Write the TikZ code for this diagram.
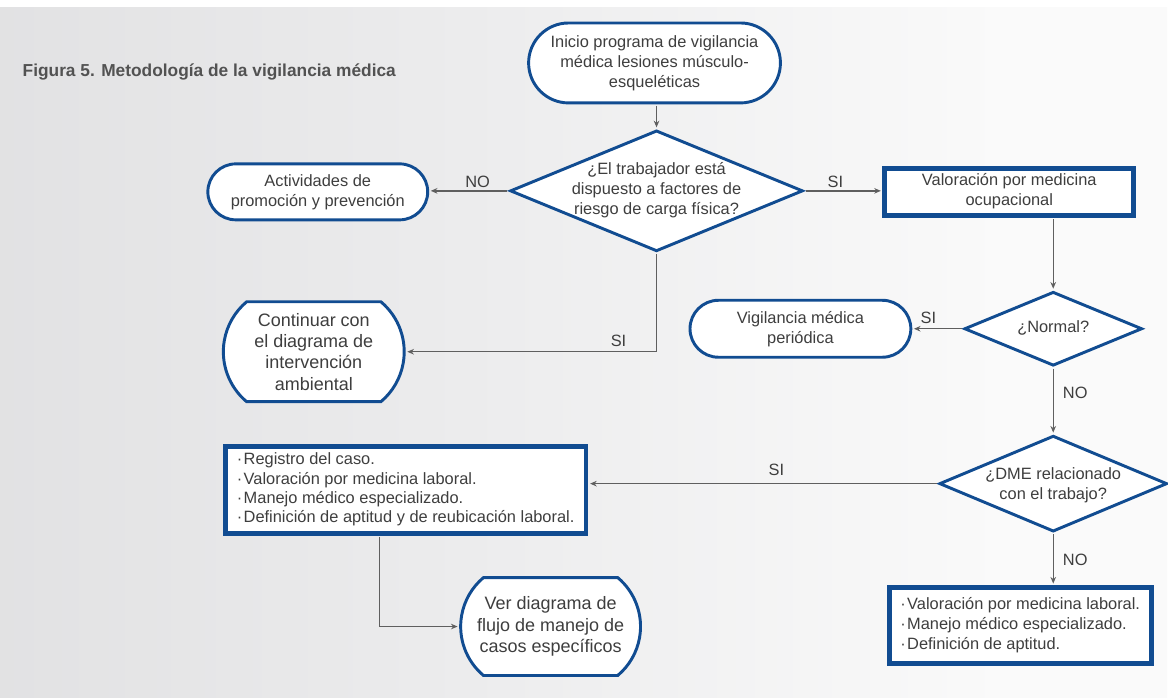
\documentclass[tikz,border=0pt]{standalone}
\usepackage{fontspec}
\setmainfont{Liberation Sans}
\usetikzlibrary{shapes.geometric,shapes.misc,arrows.meta,calc}
\definecolor{bl}{RGB}{17,76,145}
\definecolor{tx}{RGB}{62,62,62}
\definecolor{ln}{RGB}{95,95,95}
\definecolor{ttl}{RGB}{82,82,82}
\definecolor{bgA}{RGB}{213,213,215}
\definecolor{bgB}{RGB}{236,236,237}
\definecolor{bgC}{RGB}{250,250,250}
\definecolor{bgD}{RGB}{226,226,228}
\pgfdeclarehorizontalshading{bgsh}{100bp}{color(0bp)=(bgA); color(45bp)=(bgB); color(68bp)=(bgC); color(88bp)=(bgC); color(100bp)=(bgD)}
\newcommand\ctxt[1]{\makebox[0pt]{\smash{\raisebox{-0.25em}{\begin{tabular}{@{}c@{}}#1\end{tabular}}}}}
\begin{document}
\begin{tikzpicture}[x=0.75pt,y=-0.75pt,
  every node/.style={text=tx,font=\fontsize{12.3}{15}\selectfont},
  big/.style={font=\fontsize{13.5}{16}\selectfont},
  term/.style={rounded rectangle, draw=bl, line width=2.2pt, fill=white, align=center, inner sep=0pt},
  dec/.style={diamond, draw=bl, line width=2.2pt, fill=white, inner sep=0pt},
  proc/.style={rectangle, draw=bl, line width=3.6pt, fill=white, inner sep=0pt},
  conn/.style={draw=ln, line width=1.1pt, shorten <=1pt, shorten >=1.2pt, -{Stealth[length=5pt,width=4.2pt]}},
  lab/.style={inner sep=0pt}
]
% background
\fill[white] (0,0) rectangle (1168,698);
\shade[shading=bgsh] (0,8) rectangle (1168,698);

% title
\node[anchor=west, font=\bfseries\fontsize{13}{15}\selectfont, text=ttl] (title) at (18,72) {Figura 5. Metodología de la vigilancia médica};

% nodes
\node[term, minimum width=252*0.75pt, minimum height=80*0.75pt] (start) at (655,63)
  {Inicio programa de vigilancia\\médica lesiones músculo-\\esqueléticas};
\node[dec, minimum width=293*0.75pt, minimum height=121*0.75pt] (d1) at (657,191)
  {\ctxt{¿El trabajador está\\dispuesto a factores de\\riesgo de carga física?}};
\node[term, minimum width=220*0.75pt, minimum height=56*0.75pt] (act) at (318,192)
  {Actividades de\\promoción y prevención};
\node[proc, minimum width=249*0.75pt, minimum height=47*0.75pt] (val) at (1010,192)
  {\ctxt{Valoración por medicina\\ocupacional}};
\node[term, big, rounded rectangle arc length=100, minimum width=181*0.75pt, minimum height=100*0.75pt] (cont) at (314,352)
  {Continuar con\\el diagrama de\\intervención\\ambiental};
\node[term, minimum width=221*0.75pt, minimum height=57*0.75pt] (vig) at (801,329)
  {Vigilancia médica\\periódica};
\node[dec, minimum width=178*0.75pt, minimum height=74*0.75pt] (d2) at (1054,329)
  {\ctxt{¿Normal?}};
\node[dec, minimum width=228*0.75pt, minimum height=96*0.75pt] (d3) at (1054,484)
  {\raisebox{-3pt}{\ctxt{¿DME relacionado\\con el trabajo?}}};
\node[proc, align=left, minimum width=361*0.75pt, minimum height=87*0.75pt, font=\fontsize{12.3}{14.5}\selectfont] (reg) at (406,490)
  {·\hspace{1pt}Registro del caso.\\·\hspace{1pt}Valoración por medicina laboral.\\·\hspace{1pt}Manejo médico especializado.\\·\hspace{1pt}Definición de aptitud y de reubicación laboral.};
\node[term, big, rounded rectangle arc length=100, minimum width=180*0.75pt, minimum height=98*0.75pt] (ver) at (551,627)
  {Ver diagrama de\\flujo de manejo de\\casos específicos};
\node[proc, align=left, minimum width=262*0.75pt, minimum height=76*0.75pt] (labo) at (1021,626)
  {·\hspace{1pt}Valoración por medicina laboral.\\·\hspace{1pt}Manejo médico especializado.\\·\hspace{1pt}Definición de aptitud.};

% labels
\node[lab] (l1) at (478,182) {NO};
\node[lab] (l2) at (836,182) {SI};
\node[lab] (l3) at (619,341) {SI};
\node[lab] (l4) at (929,318) {SI};
\node[lab] (l5) at (1076,393) {NO};
\node[lab] (l6) at (777,470) {SI};
\node[lab] (l7) at (1076,560) {NO};

% connectors
\draw[conn] (d1.north |- start.south) -- (d1.north);
\draw[conn] (d1.west) -- (d1.west -| act.east);
\draw[conn] (d1.east) -- (d1.east -| val.west);
\draw[conn] (val.south -| d2.north) -- (d2.north);
\draw[conn] (d1.south) |- (cont.east);
\draw[conn] (d2.west) -- (d2.west -| vig.east);
\draw[conn] (d2.south) -- (d3.north);
\draw[conn] (d3.west) -- (d3.west -| reg.east);
\draw[conn] (d3.south) -- (d3.south |- labo.north);
\draw[conn] ([xshift=-26*0.75pt]reg.south) |- (ver.west);
\end{tikzpicture}
\end{document}
